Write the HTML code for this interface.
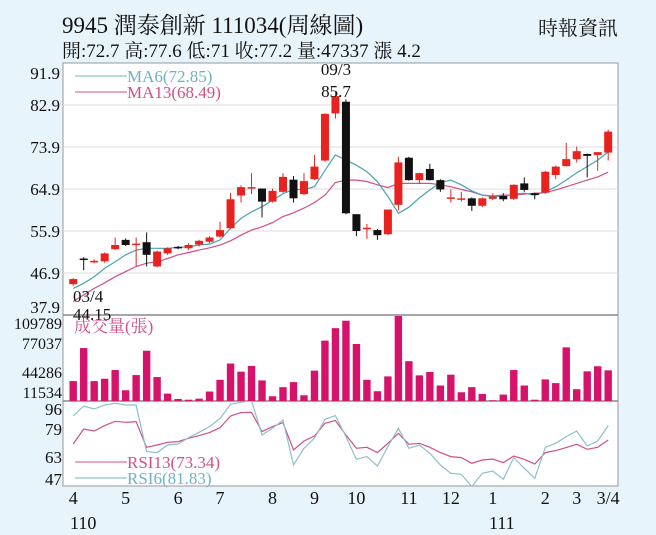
<!DOCTYPE html>
<html><head><meta charset="utf-8"><style>
body{margin:0;background:#e8f4fc;}
svg{display:block;font-family:"Liberation Serif","Noto Serif CJK TC",serif;}
</style></head><body>
<svg id="c" width="656" height="535" viewBox="0 0 656 535">
<rect width="656" height="535" fill="#e8f4fc"/>
<text x="62" y="33" font-size="23" fill="#111">9945  潤泰創新 111034(周線圖)</text>
<text x="62" y="57" font-size="19" fill="#111">開:72.7 高:77.6 低:71 收:77.2 量:47337 漲 4.2</text>
<text x="618" y="35" font-size="20" fill="#111" text-anchor="end">時報資訊</text>
<rect x="63" y="63" width="555" height="423" fill="#fff" stroke="#999"/>
<g id="grid"></g><g id="marks"></g><g id="labels"></g>
</svg>
<script>
const priceTicks=[37.9,46.9,55.9,64.9,73.9,82.9,91.9];
const openV=[44.5,50.0,49.4,49.4,52.0,54.0,52.9,53.5,48.3,51.1,52.5,52.2,53.0,53.6,54.7,56.5,63.5,65.0,65.0,62.2,64.3,66.9,63.8,67.0,71.0,81.1,83.6,59.5,56.3,56.1,55.2,61.5,71.6,66.8,69.2,66.8,62.8,62.9,62.9,61.3,62.8,63.4,62.8,66.1,64.0,64.1,67.9,69.8,71.3,72.4,72.2,72.7];
const closeV=[45.6,49.7,49.5,51.1,52.9,52.9,53.2,50.8,51.5,52.2,52.2,52.9,53.8,54.5,56.1,62.7,65.3,65.3,62.2,64.5,67.5,62.9,66.6,69.7,81.0,84.8,59.7,55.9,56.6,55.0,60.5,70.6,66.8,68.3,66.8,64.8,63.1,62.9,61.3,62.9,63.3,62.7,65.8,64.7,63.6,68.6,69.7,71.3,73.0,72.0,72.8,77.2];
const highV=[45.8,50.3,49.8,51.3,54.5,54.3,54.5,55.6,51.7,52.4,52.7,53.3,54.0,54.8,57.9,64.1,65.7,68.3,65.0,65.0,68.3,67.7,68.3,72.2,81.1,85.7,84.1,59.5,57.4,56.3,60.5,71.8,71.8,68.4,70.3,67.0,64.8,64.3,63.1,63.1,64.0,64.0,65.9,67.4,64.1,68.8,69.9,74.8,74.0,72.5,72.8,77.6];
const lowV=[44.15,47.5,49.0,49.1,51.8,52.7,48.3,48.3,48.1,50.8,52.0,51.8,52.6,53.3,54.5,56.3,62.0,63.8,58.8,62.0,64.1,62.0,63.6,66.8,70.8,80.0,59.5,54.8,54.2,54.0,55.0,60.3,66.7,66.0,66.7,64.3,62.0,62.2,60.2,61.0,62.5,62.3,62.5,64.3,62.7,63.9,67.0,69.7,70.6,67.4,68.8,71.0];
const ma6=[43.6,44.7,46.1,47.9,49.3,50.8,51.8,52.2,52.2,52.2,52.4,52.5,52.9,53.1,54.0,56.5,58.6,60.0,61.1,62.5,63.9,64.8,64.8,65.4,68.9,72.2,71.1,70.0,68.6,66.5,63.3,59.7,61.0,63.0,64.7,66.3,66.8,65.8,64.5,63.6,63.3,63.3,63.8,64.0,63.6,64.3,65.4,66.8,68.4,69.7,71.1,72.85];
const ma13=[40.8,42.2,43.6,44.8,46.1,47.2,48.3,49.0,49.3,50.0,50.8,51.3,51.8,52.3,52.9,53.8,55.0,56.1,56.8,57.7,59.0,59.8,60.8,62.0,63.6,66.3,66.8,66.8,66.5,65.8,65.2,66.1,66.1,66.1,66.1,65.8,65.4,64.8,64.3,63.6,63.4,63.6,63.6,63.8,64.0,64.1,64.7,65.4,66.1,66.8,67.5,68.49];
const volTicks=[11534,44286,77037,109789];
const volume=[25700,68400,25700,28750,40000,13900,33500,64900,30900,9600,2600,1700,3000,12200,27400,48400,37900,45300,26600,6100,17900,24400,7400,39200,78000,94100,103700,73600,27400,12600,31800,111500,51400,33100,37500,20000,34000,11300,17900,9100,900,8300,40000,20000,1700,27900,23100,69300,15200,38300,44900,39600];
const rsiTicks=[47,63,79,96];
const rsi13=[71.7,82.2,80.8,84.6,87.6,86.9,87.4,69.4,71.0,72.9,73.4,75.7,77.6,79.7,83.2,91.3,93.7,93.9,80.4,83.9,86.7,67.5,73.8,77.3,86.2,88.1,78.0,68.7,69.4,65.7,72.2,79.2,71.5,72.2,69.4,65.7,62.9,62.2,58.2,60.5,61.2,58.7,63.3,61.0,57.7,65.7,67.1,69.2,71.5,68.0,69.4,74.5];
const rsi6=[91.3,98.3,96.2,99.0,100.2,99.0,99.0,66.4,65.7,71.0,71.7,76.2,79.9,83.9,89.7,99.5,100.9,102,78.0,82.7,88.5,57.0,68.7,75.7,89.0,91.6,76.9,61.0,62.9,56.3,69.9,82.7,68.7,71.0,65.2,57.0,51.2,50.5,41.9,51.2,52.8,47.0,62.2,54.7,47.7,69.4,72.2,76.9,80.8,70.3,73.8,84.6];
const monthLabels=["4","5","6","7","8","9","10","11","12","1","2","3","3/4"];
const monthIdx=[0,5,10,14,19,23,27,32,36,40,45,48,51];

const NS="http://www.w3.org/2000/svg";
const X=i=>73.2+i*10.49;
const PY=v=>315-(v-37.9)*42/9;
const VY=v=>401-v*(401-316)/109789;
const RY=v=>409.3+(96-v)*1.4287;
function mk(t,a,p){const e=document.createElementNS(NS,t);for(const k in a)e.setAttribute(k,a[k]);(p||document.getElementById('marks')).appendChild(e);return e;}
const grid=document.getElementById('grid'),lab=document.getElementById('labels');
const defs=mk('defs',{},document.getElementById('c'));
const cp=mk('clipPath',{id:'rc'},defs);mk('rect',{x:63,y:401,width:555,height:85},cp);

priceTicks.forEach(t=>{const y=PY(t);
 if(t>37.9&&t<91.9){const g=mk('line',{x1:63,x2:618,y1:y,y2:y,stroke:'#ddd'},grid);
 
 }
 let by=y+6; if(t>91)by=79; if(t<38)by=313;
 const tx=mk('text',{x:60,y:by,'font-size':17,'text-anchor':'end',fill:'#111'},lab);tx.textContent=t.toFixed(1);
 
 });
[315,401].forEach(y=>{const l=mk('line',{x1:63,x2:618,y1:y,y2:y,stroke:'#888','stroke-width':1.5},grid);
 
 });

function line(arr,yf,col,name,clip){const d=arr.map((v,i)=>(i?'L':'M')+X(i).toFixed(1)+','+yf(v).toFixed(1)).join('');
 const p=mk('path',{d:d,fill:'none',stroke:col,'stroke-width':1.2});if(clip)p.setAttribute('clip-path','url(#rc)');
 
 }
line(ma13,PY,'#d0508a','ma13-line');
line(ma6,PY,'#4aa3b3','ma6-line');

openV.forEach((o,i)=>{const c=closeV[i],up=c>=o,col=up?'#e8231f':'#111',x=X(i);
 const w=mk('line',{x1:x,x2:x,y1:PY(highV[i]),y2:PY(lowV[i]),stroke:col,'stroke-width':1});
 
 
 const t=PY(Math.max(o,c)),b=PY(Math.min(o,c));
 const r=mk('rect',{x:x-4,y:t,width:8,height:Math.max(b-t,1.5),fill:col});
 
 });

volume.forEach((v,i)=>{const y=Math.max(VY(v),316);const r=mk('rect',{x:X(i)-3.7,y:y,width:7.4,height:401-y,fill:'#d6136b'});
 
 });
const vpos={11534:398,44286:378,77037:349,109789:329};
volTicks.forEach(t=>{const tx=mk('text',{x:62,y:vpos[t],'font-size':16,'text-anchor':'end',fill:'#111'},lab);tx.textContent=t;
 
 });

line(rsi13,RY,'#d0508a','rsi13-line',true);
line(rsi6,RY,'#8fbfc9','rsi6-line',true);
const rpos={96:415,79:435,63:463,47:485};
rsiTicks.forEach(t=>{const tx=mk('text',{x:62,y:rpos[t],'font-size':17,'text-anchor':'end',fill:'#111'},lab);tx.textContent=t;
 
 });

monthLabels.forEach((m,i)=>{const tx=mk('text',{x:X(monthIdx[i]),y:504,'font-size':18,'text-anchor':'middle',fill:'#111'},lab);tx.textContent=m;
 
 });
function txt(s,x,y,sz,col,name,anc){const t=mk('text',{x:x,y:y,'font-size':sz,fill:col,'text-anchor':anc||'start'},lab);t.textContent=s;
 
 }
txt('110',70,529,18,'#111','year-label-110');
txt('111',489,529,18,'#111','year-label-111');
txt('09/3',336,75,17,'#111','high-date-annotation','middle');
txt('85.7',336,97,17,'#111','high-value-annotation','middle');
txt('03/4',73,302,17,'#111','low-date-annotation');
txt('44.15',73,320,17,'#111','low-value-annotation');
function leg(y,col,s,name){const l=mk('line',{x1:75,x2:127,y1:y,y2:y,stroke:col,'stroke-width':1},lab);
 
 
 txt(s,127,y+6,17,col,name);}
leg(76,'#6fb3c2','MA6(72.85)','ma6-legend');
leg(92,'#d0508a','MA13(68.49)','ma13-legend');
txt('成交量(張)',74,332,17,'#d0508a','volume-legend');
leg(462,'#d0508a','RSI13(73.34)','rsi13-legend');
leg(478,'#6fb3c2','RSI6(81.83)','rsi6-legend');
</script>
</body></html>
